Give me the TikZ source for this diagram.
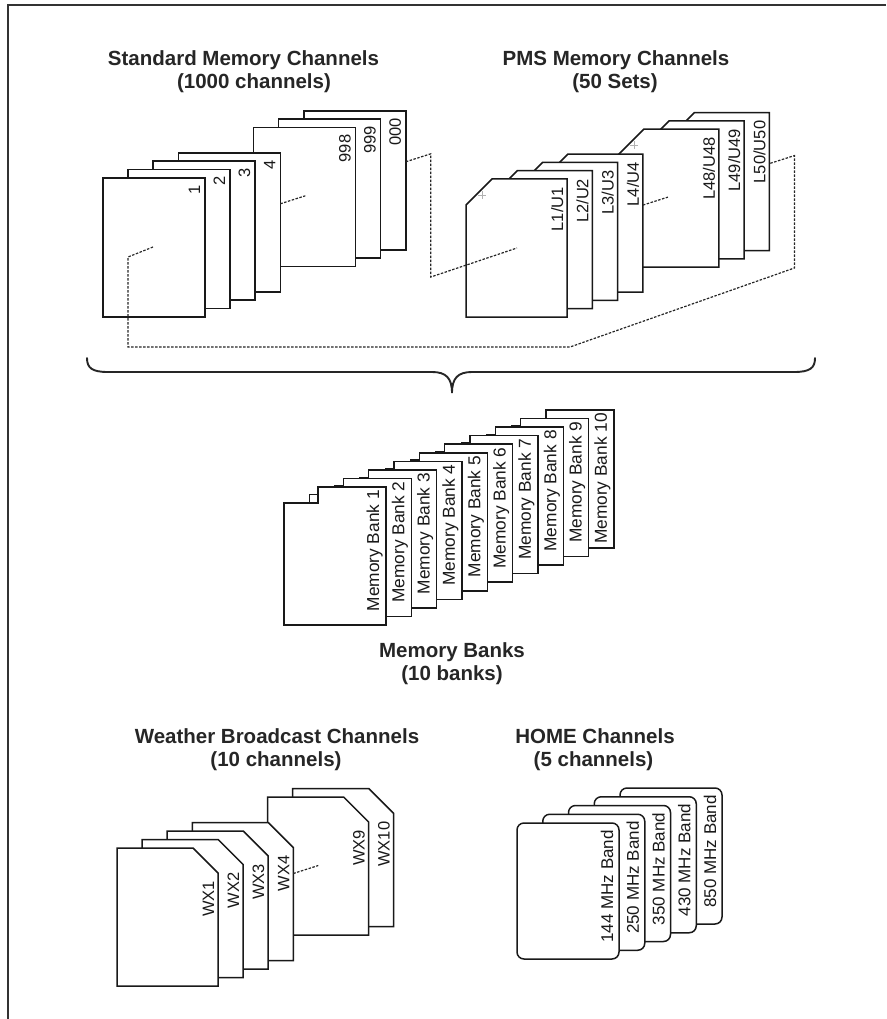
\documentclass[tikz,border=0pt]{standalone}
\usepackage{fontspec}
\setmainfont{Liberation Sans}
\begin{document}
\begin{tikzpicture}[x=1pt,y=-1pt,
  card/.style={draw=black!90, fill=white, line width=1.5pt, line join=miter},
  lab/.style={font=\fontsize{16.5}{18}\selectfont, inner sep=0pt, rotate=90, anchor=base east, text=black!90},
  ttl/.style={font=\bfseries\fontsize{20.5}{23}\selectfont, inner sep=0pt, anchor=base, text=black!85},
  dashline/.style={draw=black!85, dash pattern=on 2.5pt off 1.5pt, line width=1.2pt},
  frameline/.style={draw=black!80, line width=1.8pt}
]
\useasboundingbox (0,0) rectangle (886,1019);
\fill[white] (0,0) rectangle (886,1019);
% frame
\draw[frameline] (8,1019) -- (8,5) -- (886,5);

% titles
\node[ttl] (t1a) at (243.5,66) {Standard Memory Channels};
\node[ttl] (t1b) at (254,89) {(1000 channels)};
\node[ttl] (t2a) at (616,66) {PMS Memory Channels};
\node[ttl] (t2b) at (615,89) {(50 Sets)};
\node[ttl] (t3a) at (452,657) {Memory Banks};
\node[ttl] (t3b) at (452,680) {(10 banks)};
\node[ttl] (t4a) at (277,743) {Weather Broadcast Channels};
\node[ttl] (t4b) at (276,766) {(10 channels)};
\node[ttl] (t5a) at (595,743) {HOME Channels};
\node[ttl] (t5b) at (593.5,766) {(5 channels)};

% standard memory channels
\foreach \i/\t in {8/000,7/999,6/998,3/4,2/3,1/2,0/1}{
  \pgfmathsetmacro\L{103+25.1*\i}
  \pgfmathsetmacro\T{178-8.4*\i}
  \pgfmathsetmacro\R{\L+102}
  \pgfmathsetmacro\B{\T+139}
  \draw[card] (\L,\T) rectangle (\R,\B);
  \node[lab] (std\i) at ({\R-5},{\T+7}) {\t};
}

% PMS memory channels
\foreach \i/\n in {8/50,7/49,6/48,3/4,2/3,1/2,0/1}{
  \pgfmathsetmacro\L{466+25.3*\i}
  \pgfmathsetmacro\T{179-8.3*\i}
  \pgfmathsetmacro\R{\L+101}
  \pgfmathsetmacro\B{\T+138}
  \draw[card] (\L,\T+26) -- (\L+26,\T) -- (\R,\T) -- (\R,\B) -- (\L,\B) -- cycle;
  \draw[gray!60, line width=0.6pt] (\L+12,\T+16) -- (\L+20,\T+16) (\L+16,\T+12) -- (\L+16,\T+20);
  \node[lab] (pms\i) at ({\R-4},{\T+8}) {L\n/U\n};
}

% dashed perspective outline
\coordinate (s1a) at (153,247);
\coordinate (s1b) at (128,257);
\coordinate (bl) at (128,347);
\coordinate (br) at (570,347);
\coordinate (rb) at (794.4,268);
\coordinate (rt) at (794.4,155.6);
\coordinate (p50) at (769.4,163.6);
\draw[dashline] (s1a) -- (s1b) -- (bl) -- (br) -- (rb) -- (rt) -- (p50);
\coordinate (s000) at (405.8,161.8);
\coordinate (mt) at (430.8,153.8);
\coordinate (mb) at (430.8,277);
\coordinate (p1in) at (517,248);
\draw[dashline] (s000) -- (mt) -- (mb) -- (p1in);
\coordinate (s4) at (280.3,203.8);
\coordinate (s4e) at (305.3,195.8);
\draw[dashline] (s4) -- (s4e);
\coordinate (p4) at (642.9,205.1);
\coordinate (p4e) at (667.9,197.1);
\draw[dashline] (p4) -- (p4e);

% brace
\draw[draw=black!85, line width=1.9pt, line cap=round]
  (87,358) .. controls (87,368) and (92,372) .. (108,372) -- (432,372)
  .. controls (446,372) and (452,378) .. (452,393)
  .. controls (452,378) and (458,372) .. (472,372) -- (794,372)
  .. controls (810,372) and (815,368) .. (815,358);

% memory banks
\foreach \i in {9,8,...,0}{
  \pgfmathsetmacro\L{284+25.33*\i}
  \pgfmathsetmacro\T{487-8.56*\i}
  \pgfmathsetmacro\R{\L+102}
  \pgfmathsetmacro\B{\T+138}
  \pgfmathtruncatemacro\n{\i+1}
  \draw[card] (\L,\B) -- (\L,\T+16) -- (\L+34,\T+16) -- (\L+34,\T) -- (\R,\T) -- (\R,\B) -- cycle;
  \node[lab, font=\fontsize{17.3}{19}\selectfont] (mb\n) at ({\R-7},{\T+3}) {Memory Bank \n};
}

% weather broadcast channels
\foreach \i/\n in {7/10,6/9,3/4,2/3,1/2,0/1}{
  \pgfmathsetmacro\L{117+25.1*\i}
  \pgfmathsetmacro\T{848-8.5*\i}
  \pgfmathsetmacro\R{\L+101}
  \pgfmathsetmacro\B{\T+138}
  \draw[card] (\L,\T) -- (\R-25,\T) -- (\R,\T+25) -- (\R,\B) -- (\L,\B) -- cycle;
  \node[lab] (wx\n) at ({\R-4},{\T+33}) {WX\n};
}
\coordinate (w4) at (293.3,873.5);
\coordinate (w4e) at (318.3,865.5);
\draw[dashline] (w4) -- (w4e);

% HOME channels
\foreach \i/\f in {4/850,3/430,2/350,1/250,0/144}{
  \pgfmathsetmacro\L{517+25.75*\i}
  \pgfmathsetmacro\T{823-8.75*\i}
  \pgfmathsetmacro\R{\L+102}
  \pgfmathsetmacro\B{\T+136}
  \draw[card, rounded corners=7pt] (\L,\T) rectangle (\R,\B);
  \node[lab, font=\fontsize{17}{19}\selectfont] (home\f) at ({\R-6},{\T+7}) {\f\ MHz Band};
}
\end{tikzpicture}
\end{document}
